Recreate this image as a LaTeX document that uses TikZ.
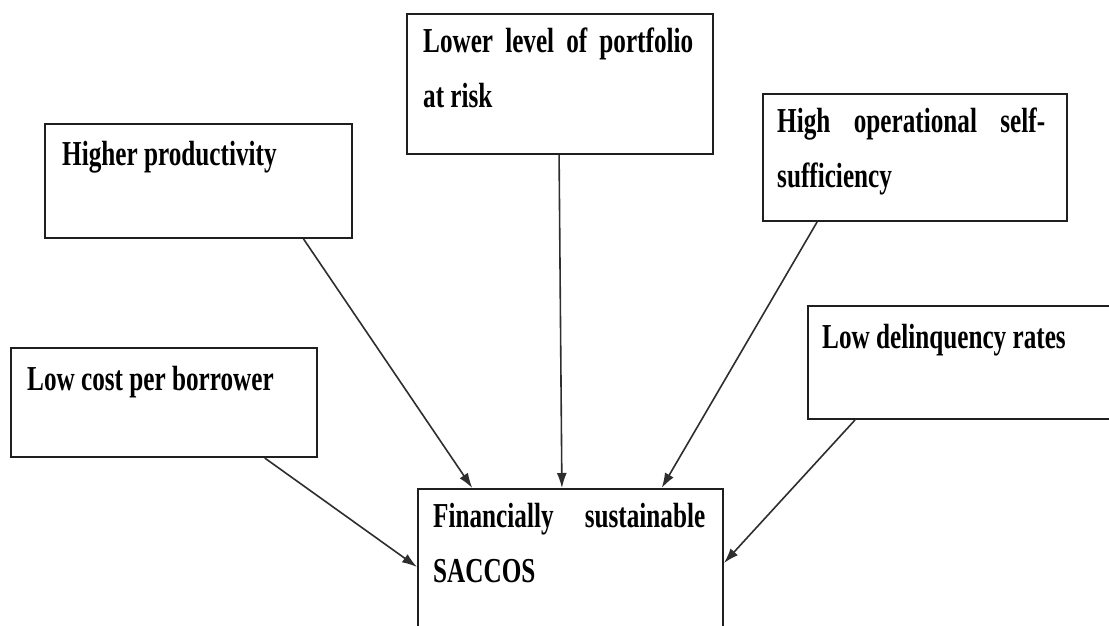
\documentclass[tikz,border=0pt]{standalone}
\usepackage{fontspec}
\setmainfont[FakeStretch=0.72]{Liberation Serif}
\usetikzlibrary{arrows.meta,calc}
\begin{document}
\begin{tikzpicture}[x=1pt,y=-1pt,
  box/.style={draw=black!88,line width=2pt,fill=white,inner sep=0pt,anchor=north west},
  lbl/.style={anchor=base west,inner sep=0pt,font=\fontsize{35}{54}\selectfont\bfseries,text=black},
  arr/.style={draw=black!82,line width=1.6pt,-{Latex[length=15pt,width=10pt]}}]
\clip (0,0) rectangle (1109,626);
\fill[white] (0,0) rectangle (1109,626);
% boxes
\node[box,minimum width=306pt,minimum height=140pt] (b1) at (406,13) {};
\node[box,minimum width=307pt,minimum height=114pt] (b2) at (44,123) {};
\node[box,minimum width=304pt,minimum height=127pt] (b3) at (762,93) {};
\node[box,minimum width=306pt,minimum height=109pt] (b4) at (10,347) {};
\node[box,minimum width=320pt,minimum height=113pt] (b5) at (807,305) {};
\node[box,minimum width=305pt,minimum height=180pt] (b6) at (417,488) {};
% texts
\node[lbl] (t1a) at (423,53) {\makebox[270pt][s]{Lower level of portfolio}};
\node[lbl] (t1b) at (423,107) {at risk};
\node[lbl] (t2) at (62,165) {Higher productivity};
\node[lbl] (t3a) at (777,132) {\makebox[268pt][s]{High operational self-}};
\node[lbl] (t3b) at (777,187) {sufficiency};
\node[lbl] (t4) at (27,390) {Low cost per borrower};
\node[lbl] (t5) at (822,348) {Low delinquency rates};
\node[lbl] (t6a) at (433,527) {\makebox[272pt][s]{Financially sustainable}};
\node[lbl] (t6b) at (433,582) {SACCOS};
% connectors
\draw[arr] ($(b1.south west)!0.497!(b1.south east)$) -- ($(b6.north west)!0.472!(b6.north east)$);
\draw[arr] ($(b2.south west)!0.84!(b2.south east)$) -- ($(b6.north west)!0.18!(b6.north east)$);
\draw[arr] ($(b3.south west)!0.18!(b3.south east)$) -- ($(b6.north west)!0.797!(b6.north east)$);
\draw[arr] ($(b4.south west)!0.827!(b4.south east)$) -- ($(b6.north west)+(0,79)$);
\draw[arr] ($(b5.south west)+(48,0)$) -- ($(b6.north east)+(0,75)$);
\end{tikzpicture}
\end{document}
